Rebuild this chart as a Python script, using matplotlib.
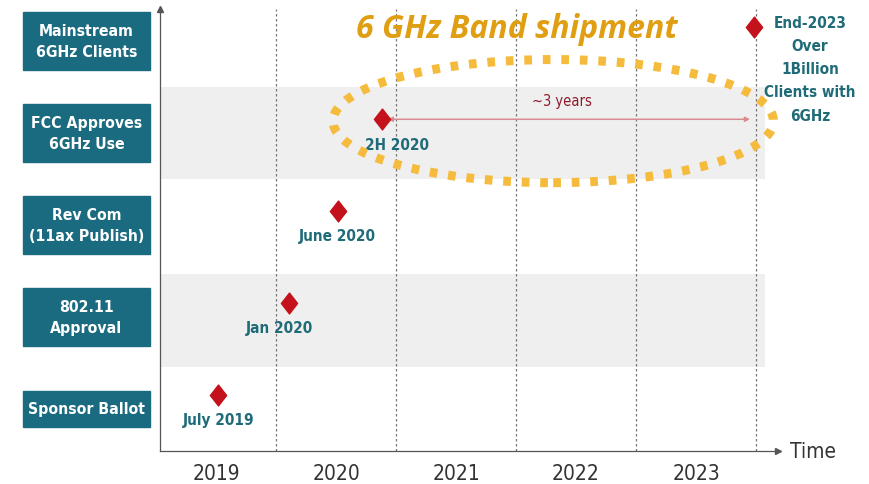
import matplotlib
matplotlib.use("Agg")
import matplotlib.pyplot as plt
from matplotlib.patches import Ellipse, Rectangle
from matplotlib.path import Path
from matplotlib import font_manager

# ==============================
# DATA
# ==============================

rows = ["Sponsor Ballot", "802.11\nApproval", "Rev Com\n(11ax Publish)",
        "FCC Approves\n6GHz Use", "Mainstream\n6GHz Clients"]
event_dates = [2019.52, 2020.11, 2020.52, 2020.88, 2023.98]   # fractional year
event_labels = ["July 2019", "Jan 2020", "June 2020", "2H 2020", ""]
event_label_x = [2019.52, 2020.03, 2020.51, 2021.01]
years = ["2019", "2020", "2021", "2022", "2023"]
year_centers = [2019.5, 2020.5, 2021.5, 2022.5, 2023.5]
year_bounds = [2020, 2021, 2022, 2023, 2024]
end_note = "End-2023\nOver\n1Billion\nClients with\n6GHz"
span_label = "~3 years"
title = "6 GHz Band shipment"

# ==============================
# STYLE
# ==============================

cond = [f for f in font_manager.fontManager.ttflist
        if "condensed" in f.fname.lower() or "narrow" in f.fname.lower()]
if cond:
    narrow = dict(family=cond[0].name, fontstretch="condensed")
else:
    narrow = dict(family="Liberation Sans")

TEAL = "#1b6b80"
TEAL_TXT = "#1f6b78"
RED = "#c4121c"
GOLD = "#e09f12"
DOTS = "#f5bb3c"

diamond = Path([(0, 1), (0.78, 0), (0, -1), (-0.78, 0), (0, 1)],
               [Path.MOVETO, Path.LINETO, Path.LINETO, Path.LINETO, Path.CLOSEPOLY])

fig = plt.figure(figsize=(8.69, 4.85), dpi=100)
W, H = 869, 485
ax = fig.add_axes([160 / W, 1 - 452 / H, (778 - 160) / W, (452 - 10) / H])
ax.set_xlim(2019.033, 2024.183)
ax.set_ylim(-0.46, 4.35)

for s in ["top", "right"]:
    ax.spines[s].set_visible(False)
for s in ["left", "bottom"]:
    ax.spines[s].set_color("#555555")
    ax.spines[s].set_linewidth(0.9)
ax.plot(1, 0, ">", color="#555555", ms=4, transform=ax.transAxes, clip_on=False)
ax.plot(0, 1, "^", color="#555555", ms=4, transform=ax.transAxes, clip_on=False)

# shaded bands
band_xmax = (765 - 160) / (778 - 160)
ax.axhspan(2.5, 3.5, xmin=0, xmax=band_xmax, color="#efefef", zorder=0, lw=0)
ax.axhspan(0.45, 1.47, xmin=0, xmax=band_xmax, color="#efefef", zorder=0, lw=0)

# year dividers
for b in year_bounds:
    ax.axvline(b, color="#777777", lw=0.9, ls=(0, (2, 2)), zorder=1)

ax.set_yticks([])
ax.set_xticks(year_centers)
ax.set_xticklabels(years, fontsize=15, color="#333333", **narrow)
ax.tick_params(axis="x", length=0, pad=9)

fig.text(790 / W, 1 - 452 / H, "Time", fontsize=15, color="#333333",
         va="center", ha="left", **narrow)

# left labels
box_w = 127
for i, r in enumerate(rows):
    yc = 410 - i * 92
    bh = 36 if "\n" not in r else 58
    fig.patches.append(Rectangle((23 / W, 1 - (yc + bh / 2) / H), box_w / W, bh / H,
                                 transform=fig.transFigure, color=TEAL, zorder=0))
    fig.text((23 + box_w / 2) / W, 1 - yc / H, r, color="white", fontsize=11.3,
             fontweight="bold", ha="center", va="center",
             linespacing=1.45, **narrow)

# events
for i, d in enumerate(event_dates):
    ax.plot(d, i + 0.15, marker=diamond, color=RED, ms=15, zorder=4, clip_on=False)
    if event_labels[i]:
        ax.text(event_label_x[i], i - 0.12, event_labels[i], color=TEAL_TXT,
                fontsize=11, fontweight="bold",
                ha="center", va="center", zorder=5, **narrow)

ax.text(2024.45, 3.70, end_note, color=TEAL_TXT, fontsize=11,
        fontweight="bold", ha="center", va="center",
        linespacing=1.68, clip_on=False, **narrow)

# ~3 years span
ax.annotate("", xy=(2020.93, 3.15), xytext=(2023.95, 3.15),
            arrowprops=dict(arrowstyle="<|-|>", color="#d98a8f", lw=1.1,
                            mutation_scale=7, shrinkA=0, shrinkB=0), zorder=3)
ax.text(2022.38, 3.35, span_label, color="#8c1c2c", fontsize=10.5,
        ha="center", va="center", **narrow)

# highlight ellipse
ax.add_patch(Ellipse((2022.31, 3.13), 3.67, 1.34, fill=False, ec=DOTS, lw=6.5,
                     ls=(0, (0.85, 1.2)), clip_on=False, zorder=6))

fig.text(517 / W, 1 - 30 / H, title, color=GOLD, fontsize=23,
         fontweight="bold", fontstyle="italic", family="Open Sans",
         ha="center", va="center")

fig.savefig("out.png", dpi=100)
